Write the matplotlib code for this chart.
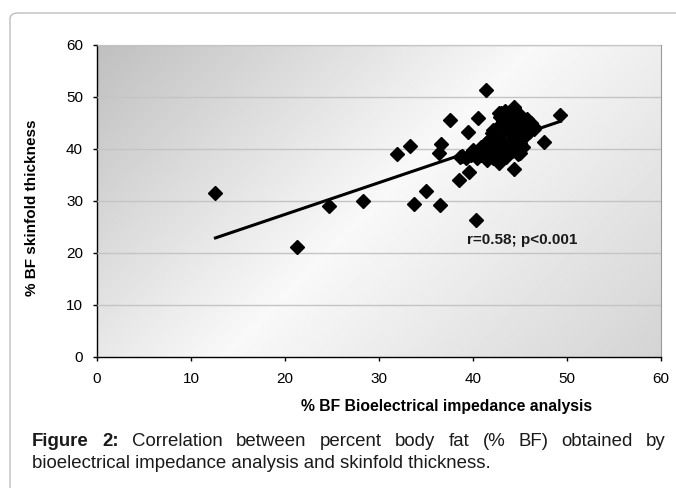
import matplotlib
matplotlib.use("Agg")
import matplotlib.pyplot as plt
import numpy as np
from matplotlib.patches import FancyBboxPatch

plt.rcParams['font.family'] = ['Liberation Sans', 'DejaVu Sans']

# % BF by bioelectrical impedance (x) vs % BF by skinfold thickness (y)
bia_pct = [12.6, 21.3, 24.7, 28.3, 31.9, 33.3, 33.7, 35.0, 36.5, 36.6,
           36.4, 37.6, 38.5, 39.6, 39.5, 40.5, 40.3, 41.4, 47.6, 49.3,
           44.4, 44.8, 38.8, 40.4, 38.6,
           42.8, 43.4, 44.4, 44.4, 45.7, 46.4, 46.2, 42.0, 42.5, 41.4,
           43.9, 45.0, 43.6, 45.0, 41.1, 40.0, 42.1, 44.3, 45.2, 43.2,
           44.1, 45.0, 42.8, 42.1, 41.6, 43.0,
           42.5, 43.0, 44.0, 44.6, 45.5, 46.0, 43.8, 42.3, 41.8, 40.8,
           41.5, 42.7, 43.5, 44.2, 45.5, 46.5, 40.9, 39.8, 39.3, 43.3,
           44.8, 42.9, 43.7, 45.3]
skinfold_pct = [31.6, 21.1, 29.0, 30.0, 39.1, 40.5, 29.4, 31.9, 29.2, 40.9,
                39.2, 45.5, 34.0, 35.6, 43.2, 46.0, 26.4, 51.3, 41.4, 46.6,
                36.2, 39.1, 38.6, 38.3, 38.5,
                47.0, 47.3, 48.1, 47.9, 45.7, 44.4, 45.0, 43.1, 44.1, 41.2,
                43.1, 41.2, 39.9, 39.2, 39.2, 39.9, 38.3, 42.1, 43.4, 45.3,
                45.0, 46.6, 37.3, 43.7, 41.5, 47.0,
                40.5, 41.8, 40.8, 44.0, 44.8, 43.2, 44.2, 42.2, 40.0, 38.8,
                37.8, 39.0, 38.5, 39.6, 42.5, 43.8, 40.4, 38.9, 38.2, 43.6,
                45.5, 46.2, 46.4, 40.4]

# linear trend
trend_slope = 0.611
trend_intercept = 15.2
annotation = "r=0.58; p<0.001"

x_ticks = [0, 10, 20, 30, 40, 50, 60]
y_ticks = [0, 10, 20, 30, 40, 50, 60]

W, H = 676, 488
fig = plt.figure(figsize=(W / 100, H / 100), dpi=100)

# outer rounded frame (open at right and bottom)
frame = FancyBboxPatch((10 / W, -0.1), 1.1, 1 - 13 / H + 0.1,
                       boxstyle="round,pad=0,rounding_size=0.012",
                       transform=fig.transFigure, fill=False,
                       edgecolor='#bdbdbd', linewidth=1.0)
fig.patches.append(frame)

ax = fig.add_axes([97 / W, 1 - 357 / H, 564 / W, 312 / H])

# diagonal gradient background: grey top-left, white middle, grey bottom-right
nx, ny = 300, 200
u = np.linspace(0, 1, nx)[None, :]
v = np.linspace(0, 1, ny)[:, None]
d = (u * 564 + v * 312) / (564 + 312)
lum = np.where(d < 0.5, 0.75 + (0.975 - 0.75) * (d / 0.5),
               0.975 - (0.975 - 0.83) * ((d - 0.5) / 0.5))
ax.imshow(lum, cmap='gray', vmin=0, vmax=1, extent=[0, 60, 0, 60],
          aspect='auto', origin='upper', zorder=0, interpolation='bilinear')

ax.set_xlim(0, 60)
ax.set_ylim(0, 60)
ax.set_xticks(x_ticks)
ax.set_yticks(y_ticks)
ax.yaxis.grid(True, color='#c4c4c4', linewidth=1.0, zorder=1)
ax.set_axisbelow(False)

ax.plot(bia_pct, skinfold_pct, linestyle='none', marker='D', ms=7.2,
        color='black', zorder=3)

tx = np.array([min(bia_pct), max(bia_pct)])
ax.plot(tx, trend_intercept + trend_slope * tx, color='black', lw=2.2, zorder=4)

ax.text(39.4, 22.5, annotation, fontsize=11, fontweight='bold',
        color='#1a1a1a', va='center', ha='left', zorder=5)

for s in ['top', 'right']:
    ax.spines[s].set_color('#9a9a9a')
    ax.spines[s].set_linewidth(0.8)
for s in ['left', 'bottom']:
    ax.spines[s].set_color('black')
    ax.spines[s].set_linewidth(1.0)
ax.tick_params(direction='out', length=3, width=1, labelsize=11,
               colors='black')
ax.tick_params(axis='x', pad=8)
ax.tick_params(axis='y', pad=7)

fig.text(447 / W, 1 - 407 / H, "% BF Bioelectrical impedance analysis",
         fontsize=11.3, fontweight='bold', ha='center', va='center')
fig.text(32 / W, 1 - 208 / H, "% BF skinfold thickness",
         fontsize=11, fontweight='bold', ha='center', va='center',
         rotation=90)

# caption, first line justified
line1 = [("Figure", 'bold'), ("2:", 'bold'), ("Correlation", 'normal'),
         ("between", 'normal'), ("percent", 'normal'), ("body", 'normal'),
         ("fat", 'normal'), ("(%", 'normal'), ("BF)", 'normal'),
         ("obtained", 'normal'), ("by", 'normal')]
line2 = "bioelectrical impedance analysis and skinfold thickness."
cap_fs = 13.4
x0, x1 = 32, 666
y1, y2 = 1 - 442 / H, 1 - 463 / H

fig.canvas.draw()
rend = fig.canvas.get_renderer()
words = []
for w, fw in line1:
    t = fig.text(0, y1, w, fontsize=cap_fs, fontweight=fw, va='center',
                 ha='left', color='#1a1a1a')
    words.append(t)
widths = [t.get_window_extent(rend).width for t in words]
gap = (x1 - x0 - sum(widths)) / (len(words) - 1)
xpos = x0
for t, wd in zip(words, widths):
    t.set_x(xpos / W)
    xpos += wd + gap
fig.text(x0 / W, y2, line2, fontsize=cap_fs, va='center', ha='left',
         color='#1a1a1a')

fig.savefig("out.png", dpi=100)
